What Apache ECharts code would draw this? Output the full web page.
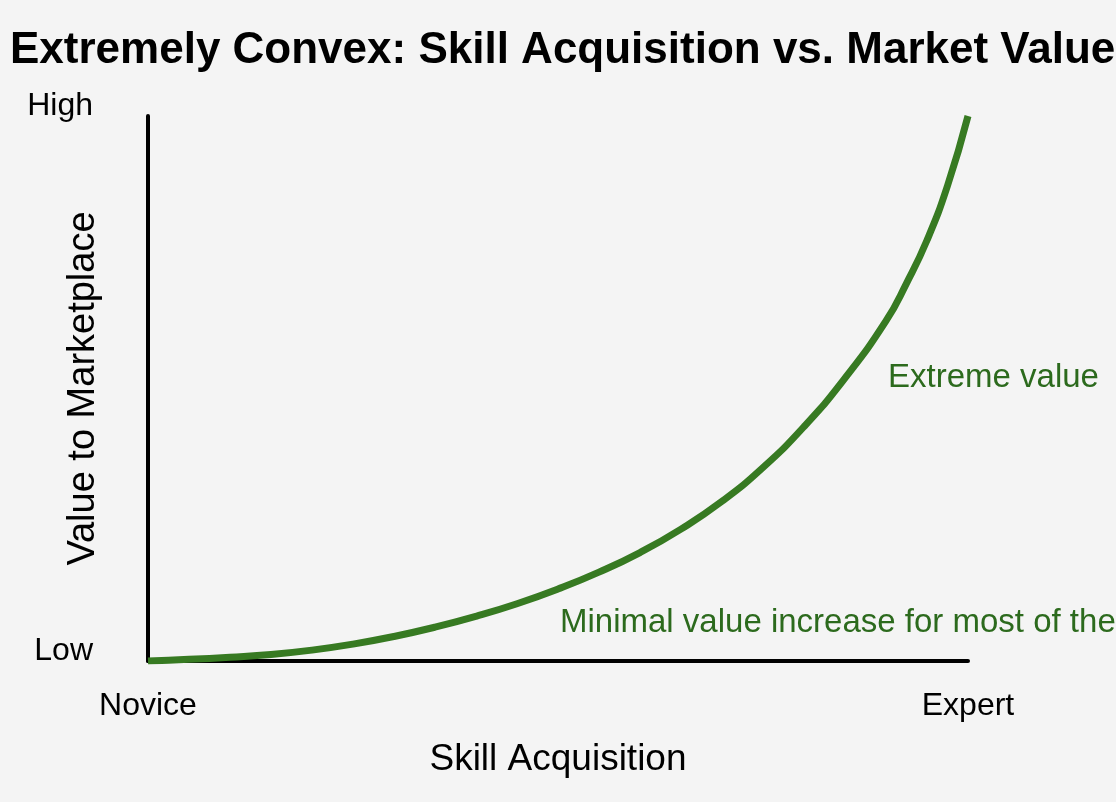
<!DOCTYPE html>
<html>
<head>
<meta charset="utf-8">
<title>Skill Acquisition vs. Market Value</title>
<script src="https://cdn.jsdelivr.net/npm/echarts@6/dist/echarts.min.js"></script>
<style>
  html, body { margin: 0; padding: 0; background: #f4f4f4; }
  #main { width: 1116px; height: 802px; }
</style>
</head>
<body>
<div id="main"></div>
<script>
// skill level (0 = novice, 100 = expert)
const skillLevel = [0, 5, 10, 15, 20, 25, 30, 35, 40, 45, 50, 55, 60, 65, 70, 75, 80, 85, 90, 92.5, 95, 97.5, 100];
// value (0 = low, 100 = high)
const marketValue = [0, 0.3, 0.7, 1.2, 2.0, 3.1, 4.5, 6.2, 8.2, 10.5, 13.2, 16.3, 19.9, 24.2, 29.3, 35.5, 43.0, 51.9, 62.4, 69.3, 77.2, 87.2, 100];
const xTickLabels = {0: 'Novice', 100: 'Expert'};
const yTickLabels = {0: 'Low', 100: 'High'};
const notes = ['Extreme value', 'Minimal value increase for most of the journey'];

const green = '#377a22';
const textGreen = '#2c6a1d';
const font = '"Liberation Sans", Arial, Helvetica, sans-serif';

const chart = echarts.init(document.getElementById('main'));

const option = {
  backgroundColor: '#f4f4f4',
  animation: false,
  textStyle: {fontFamily: font},
  title: {
    text: 'Extremely Convex: Skill Acquisition vs. Market Value',
    left: 5,
    top: 24,
    textStyle: {fontSize: 44, fontWeight: 'bold', color: '#000', fontFamily: font}
  },
  grid: {left: 148, right: 148, top: 116, bottom: 141, containLabel: false, outerBoundsMode: 'none'},
  xAxis: {
    type: 'value',
    min: 0,
    max: 100,
    interval: 100,
    name: 'Skill Acquisition',
    nameLocation: 'middle',
    nameGap: 80,
    nameMoveOverlap: false,
    nameTextStyle: {fontSize: 37, color: '#000', fontFamily: font},
    axisLine: {show: true, lineStyle: {color: '#000', width: 4}},
    axisTick: {show: false},
    splitLine: {show: false},
    axisLabel: {
      margin: 29,
      fontSize: 32,
      color: '#000',
      formatter: v => xTickLabels[v] || ''
    }
  },
  yAxis: {
    type: 'value',
    min: 0,
    max: 100,
    interval: 100,
    name: 'Value to Marketplace',
    nameLocation: 'middle',
    nameGap: 45,
    nameMoveOverlap: false,
    nameTextStyle: {fontSize: 38, color: '#000', fontFamily: font},
    axisLine: {show: true, lineStyle: {color: '#000', width: 4}},
    axisTick: {show: false},
    splitLine: {show: false},
    axisLabel: {
      margin: 55,
      fontSize: 32,
      color: '#000',
      verticalAlign: 'bottom',
      lineHeight: 20,
      formatter: v => yTickLabels[v] || ''
    }
  },
  series: [
    {
      type: 'line',
      data: skillLevel.map((x, i) => [x, marketValue[i]]),
      smooth: true,
      showSymbol: false,
      lineStyle: {color: green, width: 7},
      z: 5
    }
  ],
  graphic: [
    {
      type: 'text',
      left: 888,
      top: 361,
      style: {text: notes[0], fontSize: 33, fill: textGreen, fontFamily: font}
    },
    {
      type: 'text',
      left: 560,
      top: 606,
      style: {text: notes[1], fontSize: 33, fill: textGreen, fontFamily: font}
    }
  ]
};

chart.setOption(option);
</script>
</body>
</html>
